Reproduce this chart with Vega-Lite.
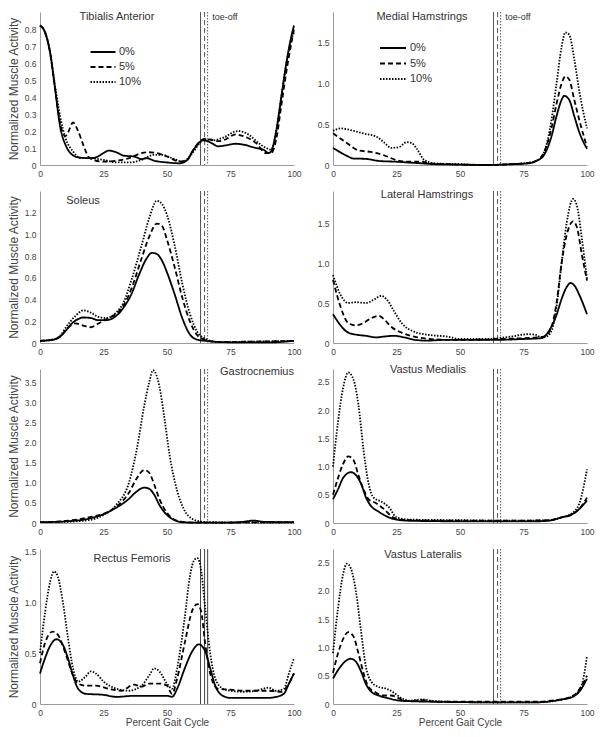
{
"$schema":"https://vega.github.io/schema/vega-lite/v6.json",
"padding":{"left":7,"top":10,"right":5,"bottom":5},
"background":"white",
"datasets":{
"toe":[{"c":"0%","x":63.2},{"c":"5%","x":64.8},{"c":"10%","x":66}],
"emg":[
{"m":"TA","c":"0%","x":0,"y":0.82},{"m":"TA","c":"0%","x":2,"y":0.78},{"m":"TA","c":"0%","x":4,"y":0.66},{"m":"TA","c":"0%","x":6,"y":0.44},{"m":"TA","c":"0%","x":8,"y":0.22},{"m":"TA","c":"0%","x":10,"y":0.12},{"m":"TA","c":"0%","x":12,"y":0.07},{"m":"TA","c":"0%","x":15,"y":0.045},{"m":"TA","c":"0%","x":20,"y":0.04},{"m":"TA","c":"0%","x":22,"y":0.045},{"m":"TA","c":"0%","x":25,"y":0.07},{"m":"TA","c":"0%","x":27,"y":0.085},{"m":"TA","c":"0%","x":30,"y":0.075},{"m":"TA","c":"0%","x":33,"y":0.055},{"m":"TA","c":"0%","x":37,"y":0.05},{"m":"TA","c":"0%","x":40,"y":0.035},{"m":"TA","c":"0%","x":42,"y":0.04},{"m":"TA","c":"0%","x":45,"y":0.025},{"m":"TA","c":"0%","x":50,"y":0.015},{"m":"TA","c":"0%","x":55,"y":0.01},{"m":"TA","c":"0%","x":58,"y":0.03},{"m":"TA","c":"0%","x":60,"y":0.08},{"m":"TA","c":"0%","x":62,"y":0.12},{"m":"TA","c":"0%","x":64,"y":0.145},{"m":"TA","c":"0%","x":66,"y":0.14},{"m":"TA","c":"0%","x":68,"y":0.125},{"m":"TA","c":"0%","x":70,"y":0.11},{"m":"TA","c":"0%","x":73,"y":0.115},{"m":"TA","c":"0%","x":77,"y":0.125},{"m":"TA","c":"0%","x":80,"y":0.12},{"m":"TA","c":"0%","x":85,"y":0.1},{"m":"TA","c":"0%","x":88,"y":0.09},{"m":"TA","c":"0%","x":90,"y":0.07},{"m":"TA","c":"0%","x":91,"y":0.08},{"m":"TA","c":"0%","x":93,"y":0.2},{"m":"TA","c":"0%","x":95,"y":0.4},{"m":"TA","c":"0%","x":97,"y":0.6},{"m":"TA","c":"0%","x":99,"y":0.76},{"m":"TA","c":"0%","x":100,"y":0.82},
{"m":"TA","c":"5%","x":0,"y":0.82},{"m":"TA","c":"5%","x":2,"y":0.78},{"m":"TA","c":"5%","x":4,"y":0.66},{"m":"TA","c":"5%","x":6,"y":0.44},{"m":"TA","c":"5%","x":8,"y":0.24},{"m":"TA","c":"5%","x":10,"y":0.17},{"m":"TA","c":"5%","x":11,"y":0.19},{"m":"TA","c":"5%","x":13,"y":0.25},{"m":"TA","c":"5%","x":15,"y":0.2},{"m":"TA","c":"5%","x":17,"y":0.12},{"m":"TA","c":"5%","x":19,"y":0.05},{"m":"TA","c":"5%","x":21,"y":0.03},{"m":"TA","c":"5%","x":25,"y":0.02},{"m":"TA","c":"5%","x":30,"y":0.025},{"m":"TA","c":"5%","x":35,"y":0.04},{"m":"TA","c":"5%","x":40,"y":0.07},{"m":"TA","c":"5%","x":43,"y":0.075},{"m":"TA","c":"5%","x":46,"y":0.07},{"m":"TA","c":"5%","x":50,"y":0.05},{"m":"TA","c":"5%","x":55,"y":0.02},{"m":"TA","c":"5%","x":58,"y":0.03},{"m":"TA","c":"5%","x":60,"y":0.08},{"m":"TA","c":"5%","x":63,"y":0.14},{"m":"TA","c":"5%","x":65,"y":0.155},{"m":"TA","c":"5%","x":67,"y":0.15},{"m":"TA","c":"5%","x":70,"y":0.14},{"m":"TA","c":"5%","x":73,"y":0.15},{"m":"TA","c":"5%","x":77,"y":0.18},{"m":"TA","c":"5%","x":80,"y":0.17},{"m":"TA","c":"5%","x":85,"y":0.13},{"m":"TA","c":"5%","x":89,"y":0.07},{"m":"TA","c":"5%","x":91,"y":0.07},{"m":"TA","c":"5%","x":93,"y":0.15},{"m":"TA","c":"5%","x":95,"y":0.35},{"m":"TA","c":"5%","x":97,"y":0.55},{"m":"TA","c":"5%","x":99,"y":0.72},{"m":"TA","c":"5%","x":100,"y":0.8},
{"m":"TA","c":"10%","x":0,"y":0.82},{"m":"TA","c":"10%","x":2,"y":0.78},{"m":"TA","c":"10%","x":4,"y":0.66},{"m":"TA","c":"10%","x":6,"y":0.46},{"m":"TA","c":"10%","x":8,"y":0.28},{"m":"TA","c":"10%","x":10,"y":0.16},{"m":"TA","c":"10%","x":13,"y":0.08},{"m":"TA","c":"10%","x":16,"y":0.04},{"m":"TA","c":"10%","x":20,"y":0.04},{"m":"TA","c":"10%","x":25,"y":0.03},{"m":"TA","c":"10%","x":30,"y":0.015},{"m":"TA","c":"10%","x":35,"y":0.015},{"m":"TA","c":"10%","x":40,"y":0.03},{"m":"TA","c":"10%","x":45,"y":0.06},{"m":"TA","c":"10%","x":48,"y":0.06},{"m":"TA","c":"10%","x":52,"y":0.04},{"m":"TA","c":"10%","x":56,"y":0.02},{"m":"TA","c":"10%","x":60,"y":0.07},{"m":"TA","c":"10%","x":63,"y":0.13},{"m":"TA","c":"10%","x":65,"y":0.15},{"m":"TA","c":"10%","x":68,"y":0.145},{"m":"TA","c":"10%","x":72,"y":0.16},{"m":"TA","c":"10%","x":78,"y":0.2},{"m":"TA","c":"10%","x":82,"y":0.18},{"m":"TA","c":"10%","x":86,"y":0.13},{"m":"TA","c":"10%","x":89,"y":0.1},{"m":"TA","c":"10%","x":91,"y":0.09},{"m":"TA","c":"10%","x":93,"y":0.2},{"m":"TA","c":"10%","x":95,"y":0.4},{"m":"TA","c":"10%","x":97,"y":0.6},{"m":"TA","c":"10%","x":99,"y":0.74},{"m":"TA","c":"10%","x":100,"y":0.78},
{"m":"MH","c":"0%","x":0,"y":0.21},{"m":"MH","c":"0%","x":5,"y":0.12},{"m":"MH","c":"0%","x":8,"y":0.08},{"m":"MH","c":"0%","x":13,"y":0.075},{"m":"MH","c":"0%","x":18,"y":0.05},{"m":"MH","c":"0%","x":25,"y":0.04},{"m":"MH","c":"0%","x":30,"y":0.03},{"m":"MH","c":"0%","x":35,"y":0.02},{"m":"MH","c":"0%","x":40,"y":0.01},{"m":"MH","c":"0%","x":50,"y":0.005},{"m":"MH","c":"0%","x":60,"y":0.0},{"m":"MH","c":"0%","x":70,"y":0.01},{"m":"MH","c":"0%","x":77,"y":0.02},{"m":"MH","c":"0%","x":80,"y":0.05},{"m":"MH","c":"0%","x":83,"y":0.12},{"m":"MH","c":"0%","x":86,"y":0.35},{"m":"MH","c":"0%","x":88,"y":0.6},{"m":"MH","c":"0%","x":90,"y":0.8},{"m":"MH","c":"0%","x":91,"y":0.85},{"m":"MH","c":"0%","x":93,"y":0.8},{"m":"MH","c":"0%","x":95,"y":0.6},{"m":"MH","c":"0%","x":97,"y":0.4},{"m":"MH","c":"0%","x":100,"y":0.2},
{"m":"MH","c":"5%","x":0,"y":0.39},{"m":"MH","c":"5%","x":5,"y":0.28},{"m":"MH","c":"5%","x":10,"y":0.18},{"m":"MH","c":"5%","x":15,"y":0.16},{"m":"MH","c":"5%","x":20,"y":0.12},{"m":"MH","c":"5%","x":25,"y":0.06},{"m":"MH","c":"5%","x":30,"y":0.04},{"m":"MH","c":"5%","x":35,"y":0.04},{"m":"MH","c":"5%","x":38,"y":0.02},{"m":"MH","c":"5%","x":45,"y":0.01},{"m":"MH","c":"5%","x":60,"y":0.0},{"m":"MH","c":"5%","x":75,"y":0.02},{"m":"MH","c":"5%","x":80,"y":0.05},{"m":"MH","c":"5%","x":83,"y":0.15},{"m":"MH","c":"5%","x":86,"y":0.45},{"m":"MH","c":"5%","x":88,"y":0.75},{"m":"MH","c":"5%","x":90,"y":1.0},{"m":"MH","c":"5%","x":91.5,"y":1.09},{"m":"MH","c":"5%","x":93,"y":1.05},{"m":"MH","c":"5%","x":95,"y":0.8},{"m":"MH","c":"5%","x":97,"y":0.55},{"m":"MH","c":"5%","x":100,"y":0.22},
{"m":"MH","c":"10%","x":0,"y":0.42},{"m":"MH","c":"10%","x":3,"y":0.45},{"m":"MH","c":"10%","x":8,"y":0.42},{"m":"MH","c":"10%","x":13,"y":0.38},{"m":"MH","c":"10%","x":17,"y":0.35},{"m":"MH","c":"10%","x":20,"y":0.28},{"m":"MH","c":"10%","x":23,"y":0.21},{"m":"MH","c":"10%","x":26,"y":0.22},{"m":"MH","c":"10%","x":29,"y":0.28},{"m":"MH","c":"10%","x":31,"y":0.27},{"m":"MH","c":"10%","x":33,"y":0.2},{"m":"MH","c":"10%","x":36,"y":0.06},{"m":"MH","c":"10%","x":40,"y":0.02},{"m":"MH","c":"10%","x":50,"y":0.01},{"m":"MH","c":"10%","x":60,"y":0.0},{"m":"MH","c":"10%","x":75,"y":0.02},{"m":"MH","c":"10%","x":80,"y":0.05},{"m":"MH","c":"10%","x":83,"y":0.15},{"m":"MH","c":"10%","x":86,"y":0.55},{"m":"MH","c":"10%","x":88,"y":1.0},{"m":"MH","c":"10%","x":90,"y":1.45},{"m":"MH","c":"10%","x":91.5,"y":1.63},{"m":"MH","c":"10%","x":93,"y":1.6},{"m":"MH","c":"10%","x":95,"y":1.3},{"m":"MH","c":"10%","x":97,"y":0.9},{"m":"MH","c":"10%","x":100,"y":0.45},
{"m":"SOL","c":"0%","x":0,"y":0.02},{"m":"SOL","c":"0%","x":5,"y":0.03},{"m":"SOL","c":"0%","x":8,"y":0.06},{"m":"SOL","c":"0%","x":10,"y":0.11},{"m":"SOL","c":"0%","x":13,"y":0.19},{"m":"SOL","c":"0%","x":15,"y":0.22},{"m":"SOL","c":"0%","x":17,"y":0.235},{"m":"SOL","c":"0%","x":20,"y":0.23},{"m":"SOL","c":"0%","x":23,"y":0.21},{"m":"SOL","c":"0%","x":26,"y":0.21},{"m":"SOL","c":"0%","x":30,"y":0.25},{"m":"SOL","c":"0%","x":33,"y":0.33},{"m":"SOL","c":"0%","x":36,"y":0.45},{"m":"SOL","c":"0%","x":39,"y":0.63},{"m":"SOL","c":"0%","x":42,"y":0.78},{"m":"SOL","c":"0%","x":44,"y":0.83},{"m":"SOL","c":"0%","x":46,"y":0.82},{"m":"SOL","c":"0%","x":48,"y":0.76},{"m":"SOL","c":"0%","x":50,"y":0.65},{"m":"SOL","c":"0%","x":53,"y":0.45},{"m":"SOL","c":"0%","x":56,"y":0.23},{"m":"SOL","c":"0%","x":59,"y":0.08},{"m":"SOL","c":"0%","x":62,"y":0.03},{"m":"SOL","c":"0%","x":65,"y":0.02},{"m":"SOL","c":"0%","x":70,"y":0.01},{"m":"SOL","c":"0%","x":80,"y":0.005},{"m":"SOL","c":"0%","x":90,"y":0.005},{"m":"SOL","c":"0%","x":100,"y":0.02},
{"m":"SOL","c":"5%","x":0,"y":0.02},{"m":"SOL","c":"5%","x":5,"y":0.03},{"m":"SOL","c":"5%","x":8,"y":0.06},{"m":"SOL","c":"5%","x":11,"y":0.14},{"m":"SOL","c":"5%","x":14,"y":0.18},{"m":"SOL","c":"5%","x":17,"y":0.16},{"m":"SOL","c":"5%","x":20,"y":0.145},{"m":"SOL","c":"5%","x":23,"y":0.18},{"m":"SOL","c":"5%","x":27,"y":0.23},{"m":"SOL","c":"5%","x":30,"y":0.27},{"m":"SOL","c":"5%","x":33,"y":0.35},{"m":"SOL","c":"5%","x":36,"y":0.5},{"m":"SOL","c":"5%","x":40,"y":0.78},{"m":"SOL","c":"5%","x":43,"y":0.98},{"m":"SOL","c":"5%","x":46,"y":1.1},{"m":"SOL","c":"5%","x":48,"y":1.08},{"m":"SOL","c":"5%","x":50,"y":0.95},{"m":"SOL","c":"5%","x":53,"y":0.7},{"m":"SOL","c":"5%","x":56,"y":0.42},{"m":"SOL","c":"5%","x":59,"y":0.2},{"m":"SOL","c":"5%","x":62,"y":0.07},{"m":"SOL","c":"5%","x":65,"y":0.03},{"m":"SOL","c":"5%","x":70,"y":0.01},{"m":"SOL","c":"5%","x":100,"y":0.02},
{"m":"SOL","c":"10%","x":0,"y":0.02},{"m":"SOL","c":"10%","x":5,"y":0.03},{"m":"SOL","c":"10%","x":8,"y":0.07},{"m":"SOL","c":"10%","x":11,"y":0.17},{"m":"SOL","c":"10%","x":14,"y":0.25},{"m":"SOL","c":"10%","x":17,"y":0.3},{"m":"SOL","c":"10%","x":20,"y":0.28},{"m":"SOL","c":"10%","x":23,"y":0.24},{"m":"SOL","c":"10%","x":26,"y":0.23},{"m":"SOL","c":"10%","x":30,"y":0.28},{"m":"SOL","c":"10%","x":33,"y":0.38},{"m":"SOL","c":"10%","x":36,"y":0.58},{"m":"SOL","c":"10%","x":40,"y":0.9},{"m":"SOL","c":"10%","x":43,"y":1.15},{"m":"SOL","c":"10%","x":46,"y":1.31},{"m":"SOL","c":"10%","x":48,"y":1.28},{"m":"SOL","c":"10%","x":50,"y":1.18},{"m":"SOL","c":"10%","x":53,"y":0.9},{"m":"SOL","c":"10%","x":56,"y":0.55},{"m":"SOL","c":"10%","x":59,"y":0.27},{"m":"SOL","c":"10%","x":62,"y":0.1},{"m":"SOL","c":"10%","x":65,"y":0.04},{"m":"SOL","c":"10%","x":70,"y":0.01},{"m":"SOL","c":"10%","x":100,"y":0.02},
{"m":"LH","c":"0%","x":0,"y":0.36},{"m":"LH","c":"0%","x":3,"y":0.22},{"m":"LH","c":"0%","x":6,"y":0.13},{"m":"LH","c":"0%","x":10,"y":0.1},{"m":"LH","c":"0%","x":13,"y":0.09},{"m":"LH","c":"0%","x":17,"y":0.07},{"m":"LH","c":"0%","x":20,"y":0.08},{"m":"LH","c":"0%","x":24,"y":0.09},{"m":"LH","c":"0%","x":28,"y":0.07},{"m":"LH","c":"0%","x":32,"y":0.04},{"m":"LH","c":"0%","x":37,"y":0.03},{"m":"LH","c":"0%","x":45,"y":0.04},{"m":"LH","c":"0%","x":55,"y":0.04},{"m":"LH","c":"0%","x":65,"y":0.04},{"m":"LH","c":"0%","x":75,"y":0.05},{"m":"LH","c":"0%","x":82,"y":0.06},{"m":"LH","c":"0%","x":85,"y":0.15},{"m":"LH","c":"0%","x":88,"y":0.35},{"m":"LH","c":"0%","x":90,"y":0.55},{"m":"LH","c":"0%","x":92,"y":0.7},{"m":"LH","c":"0%","x":93.5,"y":0.75},{"m":"LH","c":"0%","x":95,"y":0.72},{"m":"LH","c":"0%","x":97,"y":0.6},{"m":"LH","c":"0%","x":100,"y":0.36},
{"m":"LH","c":"5%","x":0,"y":0.79},{"m":"LH","c":"5%","x":3,"y":0.45},{"m":"LH","c":"5%","x":6,"y":0.25},{"m":"LH","c":"5%","x":9,"y":0.22},{"m":"LH","c":"5%","x":12,"y":0.25},{"m":"LH","c":"5%","x":15,"y":0.31},{"m":"LH","c":"5%","x":18,"y":0.34},{"m":"LH","c":"5%","x":20,"y":0.3},{"m":"LH","c":"5%","x":23,"y":0.2},{"m":"LH","c":"5%","x":27,"y":0.13},{"m":"LH","c":"5%","x":32,"y":0.08},{"m":"LH","c":"5%","x":38,"y":0.05},{"m":"LH","c":"5%","x":45,"y":0.04},{"m":"LH","c":"5%","x":55,"y":0.04},{"m":"LH","c":"5%","x":65,"y":0.05},{"m":"LH","c":"5%","x":75,"y":0.06},{"m":"LH","c":"5%","x":80,"y":0.07},{"m":"LH","c":"5%","x":83,"y":0.08},{"m":"LH","c":"5%","x":86,"y":0.2},{"m":"LH","c":"5%","x":88,"y":0.5},{"m":"LH","c":"5%","x":90,"y":1.0},{"m":"LH","c":"5%","x":92,"y":1.35},{"m":"LH","c":"5%","x":94.5,"y":1.52},{"m":"LH","c":"5%","x":96,"y":1.45},{"m":"LH","c":"5%","x":98,"y":1.1},{"m":"LH","c":"5%","x":100,"y":0.78},
{"m":"LH","c":"10%","x":0,"y":0.85},{"m":"LH","c":"10%","x":3,"y":0.6},{"m":"LH","c":"10%","x":6,"y":0.5},{"m":"LH","c":"10%","x":9,"y":0.51},{"m":"LH","c":"10%","x":13,"y":0.5},{"m":"LH","c":"10%","x":16,"y":0.54},{"m":"LH","c":"10%","x":19,"y":0.59},{"m":"LH","c":"10%","x":21,"y":0.55},{"m":"LH","c":"10%","x":24,"y":0.4},{"m":"LH","c":"10%","x":27,"y":0.25},{"m":"LH","c":"10%","x":32,"y":0.14},{"m":"LH","c":"10%","x":38,"y":0.1},{"m":"LH","c":"10%","x":45,"y":0.08},{"m":"LH","c":"10%","x":50,"y":0.05},{"m":"LH","c":"10%","x":60,"y":0.05},{"m":"LH","c":"10%","x":65,"y":0.06},{"m":"LH","c":"10%","x":70,"y":0.08},{"m":"LH","c":"10%","x":77,"y":0.11},{"m":"LH","c":"10%","x":80,"y":0.1},{"m":"LH","c":"10%","x":82,"y":0.07},{"m":"LH","c":"10%","x":84,"y":0.08},{"m":"LH","c":"10%","x":86,"y":0.15},{"m":"LH","c":"10%","x":88,"y":0.45},{"m":"LH","c":"10%","x":90,"y":1.0},{"m":"LH","c":"10%","x":92,"y":1.5},{"m":"LH","c":"10%","x":94.5,"y":1.8},{"m":"LH","c":"10%","x":96,"y":1.72},{"m":"LH","c":"10%","x":98,"y":1.3},{"m":"LH","c":"10%","x":100,"y":0.8},
{"m":"GAS","c":"0%","x":0,"y":0.02},{"m":"GAS","c":"0%","x":10,"y":0.04},{"m":"GAS","c":"0%","x":20,"y":0.12},{"m":"GAS","c":"0%","x":25,"y":0.22},{"m":"GAS","c":"0%","x":30,"y":0.38},{"m":"GAS","c":"0%","x":35,"y":0.6},{"m":"GAS","c":"0%","x":38,"y":0.78},{"m":"GAS","c":"0%","x":41,"y":0.88},{"m":"GAS","c":"0%","x":43,"y":0.85},{"m":"GAS","c":"0%","x":45,"y":0.7},{"m":"GAS","c":"0%","x":47,"y":0.45},{"m":"GAS","c":"0%","x":50,"y":0.2},{"m":"GAS","c":"0%","x":53,"y":0.07},{"m":"GAS","c":"0%","x":56,"y":0.02},{"m":"GAS","c":"0%","x":60,"y":0.01},{"m":"GAS","c":"0%","x":75,"y":0.01},{"m":"GAS","c":"0%","x":80,"y":0.03},{"m":"GAS","c":"0%","x":84,"y":0.06},{"m":"GAS","c":"0%","x":88,"y":0.03},{"m":"GAS","c":"0%","x":100,"y":0.02},
{"m":"GAS","c":"5%","x":0,"y":0.02},{"m":"GAS","c":"5%","x":10,"y":0.05},{"m":"GAS","c":"5%","x":20,"y":0.15},{"m":"GAS","c":"5%","x":25,"y":0.23},{"m":"GAS","c":"5%","x":30,"y":0.4},{"m":"GAS","c":"5%","x":35,"y":0.75},{"m":"GAS","c":"5%","x":38,"y":1.1},{"m":"GAS","c":"5%","x":41,"y":1.32},{"m":"GAS","c":"5%","x":43,"y":1.25},{"m":"GAS","c":"5%","x":45,"y":0.95},{"m":"GAS","c":"5%","x":47,"y":0.6},{"m":"GAS","c":"5%","x":50,"y":0.25},{"m":"GAS","c":"5%","x":53,"y":0.08},{"m":"GAS","c":"5%","x":56,"y":0.03},{"m":"GAS","c":"5%","x":60,"y":0.01},{"m":"GAS","c":"5%","x":100,"y":0.02},
{"m":"GAS","c":"10%","x":0,"y":0.02},{"m":"GAS","c":"10%","x":10,"y":0.03},{"m":"GAS","c":"10%","x":20,"y":0.08},{"m":"GAS","c":"10%","x":25,"y":0.2},{"m":"GAS","c":"10%","x":30,"y":0.45},{"m":"GAS","c":"10%","x":35,"y":1.0},{"m":"GAS","c":"10%","x":38,"y":1.8},{"m":"GAS","c":"10%","x":41,"y":2.9},{"m":"GAS","c":"10%","x":43,"y":3.5},{"m":"GAS","c":"10%","x":44.5,"y":3.8},{"m":"GAS","c":"10%","x":47,"y":3.4},{"m":"GAS","c":"10%","x":49,"y":2.6},{"m":"GAS","c":"10%","x":51,"y":1.7},{"m":"GAS","c":"10%","x":54,"y":0.8},{"m":"GAS","c":"10%","x":57,"y":0.3},{"m":"GAS","c":"10%","x":60,"y":0.1},{"m":"GAS","c":"10%","x":63,"y":0.04},{"m":"GAS","c":"10%","x":66,"y":0.02},{"m":"GAS","c":"10%","x":100,"y":0.01},
{"m":"VM","c":"0%","x":0,"y":0.42},{"m":"VM","c":"0%","x":2,"y":0.6},{"m":"VM","c":"0%","x":4,"y":0.8},{"m":"VM","c":"0%","x":7,"y":0.9},{"m":"VM","c":"0%","x":9,"y":0.85},{"m":"VM","c":"0%","x":11,"y":0.7},{"m":"VM","c":"0%","x":13,"y":0.45},{"m":"VM","c":"0%","x":15,"y":0.3},{"m":"VM","c":"0%","x":18,"y":0.2},{"m":"VM","c":"0%","x":22,"y":0.1},{"m":"VM","c":"0%","x":25,"y":0.06},{"m":"VM","c":"0%","x":30,"y":0.04},{"m":"VM","c":"0%","x":50,"y":0.03},{"m":"VM","c":"0%","x":65,"y":0.03},{"m":"VM","c":"0%","x":80,"y":0.03},{"m":"VM","c":"0%","x":85,"y":0.04},{"m":"VM","c":"0%","x":90,"y":0.1},{"m":"VM","c":"0%","x":94,"y":0.15},{"m":"VM","c":"0%","x":97,"y":0.25},{"m":"VM","c":"0%","x":100,"y":0.4},
{"m":"VM","c":"5%","x":0,"y":0.5},{"m":"VM","c":"5%","x":2,"y":0.8},{"m":"VM","c":"5%","x":4,"y":1.05},{"m":"VM","c":"5%","x":6,"y":1.18},{"m":"VM","c":"5%","x":8,"y":1.12},{"m":"VM","c":"5%","x":10,"y":0.85},{"m":"VM","c":"5%","x":12,"y":0.6},{"m":"VM","c":"5%","x":14,"y":0.42},{"m":"VM","c":"5%","x":17,"y":0.35},{"m":"VM","c":"5%","x":20,"y":0.25},{"m":"VM","c":"5%","x":23,"y":0.12},{"m":"VM","c":"5%","x":26,"y":0.06},{"m":"VM","c":"5%","x":30,"y":0.05},{"m":"VM","c":"5%","x":50,"y":0.04},{"m":"VM","c":"5%","x":70,"y":0.04},{"m":"VM","c":"5%","x":85,"y":0.05},{"m":"VM","c":"5%","x":90,"y":0.1},{"m":"VM","c":"5%","x":94,"y":0.15},{"m":"VM","c":"5%","x":97,"y":0.25},{"m":"VM","c":"5%","x":100,"y":0.45},
{"m":"VM","c":"10%","x":0,"y":1.0},{"m":"VM","c":"10%","x":2,"y":1.8},{"m":"VM","c":"10%","x":4,"y":2.4},{"m":"VM","c":"10%","x":6,"y":2.67},{"m":"VM","c":"10%","x":8,"y":2.55},{"m":"VM","c":"10%","x":10,"y":2.1},{"m":"VM","c":"10%","x":12,"y":1.3},{"m":"VM","c":"10%","x":14,"y":0.7},{"m":"VM","c":"10%","x":16,"y":0.45},{"m":"VM","c":"10%","x":19,"y":0.38},{"m":"VM","c":"10%","x":22,"y":0.28},{"m":"VM","c":"10%","x":25,"y":0.1},{"m":"VM","c":"10%","x":30,"y":0.06},{"m":"VM","c":"10%","x":50,"y":0.05},{"m":"VM","c":"10%","x":70,"y":0.04},{"m":"VM","c":"10%","x":85,"y":0.05},{"m":"VM","c":"10%","x":90,"y":0.1},{"m":"VM","c":"10%","x":94,"y":0.17},{"m":"VM","c":"10%","x":97,"y":0.35},{"m":"VM","c":"10%","x":100,"y":0.95},
{"m":"RF","c":"0%","x":0,"y":0.3},{"m":"RF","c":"0%","x":2,"y":0.45},{"m":"RF","c":"0%","x":4,"y":0.57},{"m":"RF","c":"0%","x":6.5,"y":0.635},{"m":"RF","c":"0%","x":9,"y":0.58},{"m":"RF","c":"0%","x":11,"y":0.45},{"m":"RF","c":"0%","x":13,"y":0.28},{"m":"RF","c":"0%","x":15,"y":0.15},{"m":"RF","c":"0%","x":18,"y":0.1},{"m":"RF","c":"0%","x":25,"y":0.09},{"m":"RF","c":"0%","x":30,"y":0.07},{"m":"RF","c":"0%","x":37,"y":0.08},{"m":"RF","c":"0%","x":45,"y":0.08},{"m":"RF","c":"0%","x":50,"y":0.08},{"m":"RF","c":"0%","x":52,"y":0.07},{"m":"RF","c":"0%","x":54,"y":0.15},{"m":"RF","c":"0%","x":57,"y":0.35},{"m":"RF","c":"0%","x":60,"y":0.52},{"m":"RF","c":"0%","x":62.5,"y":0.585},{"m":"RF","c":"0%","x":65,"y":0.52},{"m":"RF","c":"0%","x":67,"y":0.35},{"m":"RF","c":"0%","x":69,"y":0.18},{"m":"RF","c":"0%","x":72,"y":0.08},{"m":"RF","c":"0%","x":75,"y":0.06},{"m":"RF","c":"0%","x":85,"y":0.06},{"m":"RF","c":"0%","x":90,"y":0.06},{"m":"RF","c":"0%","x":93,"y":0.07},{"m":"RF","c":"0%","x":96,"y":0.1},{"m":"RF","c":"0%","x":98,"y":0.2},{"m":"RF","c":"0%","x":100,"y":0.3},
{"m":"RF","c":"5%","x":0,"y":0.4},{"m":"RF","c":"5%","x":2,"y":0.6},{"m":"RF","c":"5%","x":5,"y":0.71},{"m":"RF","c":"5%","x":7,"y":0.68},{"m":"RF","c":"5%","x":10,"y":0.5},{"m":"RF","c":"5%","x":13,"y":0.28},{"m":"RF","c":"5%","x":15,"y":0.2},{"m":"RF","c":"5%","x":18,"y":0.18},{"m":"RF","c":"5%","x":22,"y":0.18},{"m":"RF","c":"5%","x":27,"y":0.15},{"m":"RF","c":"5%","x":32,"y":0.13},{"m":"RF","c":"5%","x":37,"y":0.19},{"m":"RF","c":"5%","x":40,"y":0.17},{"m":"RF","c":"5%","x":43,"y":0.2},{"m":"RF","c":"5%","x":47,"y":0.2},{"m":"RF","c":"5%","x":50,"y":0.18},{"m":"RF","c":"5%","x":52,"y":0.1},{"m":"RF","c":"5%","x":54,"y":0.25},{"m":"RF","c":"5%","x":57,"y":0.6},{"m":"RF","c":"5%","x":60,"y":0.92},{"m":"RF","c":"5%","x":62,"y":0.98},{"m":"RF","c":"5%","x":63.5,"y":0.9},{"m":"RF","c":"5%","x":65,"y":0.6},{"m":"RF","c":"5%","x":67,"y":0.3},{"m":"RF","c":"5%","x":70,"y":0.15},{"m":"RF","c":"5%","x":75,"y":0.14},{"m":"RF","c":"5%","x":80,"y":0.13},{"m":"RF","c":"5%","x":90,"y":0.13},{"m":"RF","c":"5%","x":95,"y":0.12},{"m":"RF","c":"5%","x":98,"y":0.2},{"m":"RF","c":"5%","x":100,"y":0.3},
{"m":"RF","c":"10%","x":0,"y":0.5},{"m":"RF","c":"10%","x":2,"y":0.9},{"m":"RF","c":"10%","x":4,"y":1.2},{"m":"RF","c":"10%","x":5.5,"y":1.3},{"m":"RF","c":"10%","x":7,"y":1.25},{"m":"RF","c":"10%","x":9,"y":1.0},{"m":"RF","c":"10%","x":11,"y":0.65},{"m":"RF","c":"10%","x":13,"y":0.35},{"m":"RF","c":"10%","x":15,"y":0.22},{"m":"RF","c":"10%","x":18,"y":0.27},{"m":"RF","c":"10%","x":20,"y":0.32},{"m":"RF","c":"10%","x":22,"y":0.3},{"m":"RF","c":"10%","x":25,"y":0.22},{"m":"RF","c":"10%","x":30,"y":0.15},{"m":"RF","c":"10%","x":35,"y":0.13},{"m":"RF","c":"10%","x":40,"y":0.18},{"m":"RF","c":"10%","x":43,"y":0.28},{"m":"RF","c":"10%","x":45,"y":0.35},{"m":"RF","c":"10%","x":47,"y":0.32},{"m":"RF","c":"10%","x":50,"y":0.2},{"m":"RF","c":"10%","x":52,"y":0.15},{"m":"RF","c":"10%","x":54,"y":0.35},{"m":"RF","c":"10%","x":57,"y":0.85},{"m":"RF","c":"10%","x":59,"y":1.25},{"m":"RF","c":"10%","x":61,"y":1.42},{"m":"RF","c":"10%","x":62,"y":1.43},{"m":"RF","c":"10%","x":63.5,"y":1.3},{"m":"RF","c":"10%","x":65,"y":0.95},{"m":"RF","c":"10%","x":67,"y":0.5},{"m":"RF","c":"10%","x":69,"y":0.25},{"m":"RF","c":"10%","x":72,"y":0.15},{"m":"RF","c":"10%","x":75,"y":0.13},{"m":"RF","c":"10%","x":80,"y":0.12},{"m":"RF","c":"10%","x":85,"y":0.13},{"m":"RF","c":"10%","x":90,"y":0.16},{"m":"RF","c":"10%","x":93,"y":0.13},{"m":"RF","c":"10%","x":96,"y":0.15},{"m":"RF","c":"10%","x":98,"y":0.3},{"m":"RF","c":"10%","x":100,"y":0.45},
{"m":"VL","c":"0%","x":0,"y":0.45},{"m":"VL","c":"0%","x":2,"y":0.6},{"m":"VL","c":"0%","x":5,"y":0.76},{"m":"VL","c":"0%","x":7,"y":0.8},{"m":"VL","c":"0%","x":9,"y":0.75},{"m":"VL","c":"0%","x":11,"y":0.58},{"m":"VL","c":"0%","x":13,"y":0.35},{"m":"VL","c":"0%","x":15,"y":0.22},{"m":"VL","c":"0%","x":18,"y":0.15},{"m":"VL","c":"0%","x":22,"y":0.1},{"m":"VL","c":"0%","x":26,"y":0.06},{"m":"VL","c":"0%","x":30,"y":0.05},{"m":"VL","c":"0%","x":40,"y":0.04},{"m":"VL","c":"0%","x":60,"y":0.03},{"m":"VL","c":"0%","x":80,"y":0.03},{"m":"VL","c":"0%","x":86,"y":0.05},{"m":"VL","c":"0%","x":90,"y":0.08},{"m":"VL","c":"0%","x":94,"y":0.12},{"m":"VL","c":"0%","x":97,"y":0.22},{"m":"VL","c":"0%","x":100,"y":0.45},
{"m":"VL","c":"5%","x":0,"y":0.55},{"m":"VL","c":"5%","x":2,"y":0.9},{"m":"VL","c":"5%","x":4,"y":1.15},{"m":"VL","c":"5%","x":6,"y":1.27},{"m":"VL","c":"5%","x":8,"y":1.2},{"m":"VL","c":"5%","x":10,"y":0.9},{"m":"VL","c":"5%","x":12,"y":0.55},{"m":"VL","c":"5%","x":14,"y":0.3},{"m":"VL","c":"5%","x":17,"y":0.2},{"m":"VL","c":"5%","x":20,"y":0.15},{"m":"VL","c":"5%","x":23,"y":0.15},{"m":"VL","c":"5%","x":27,"y":0.08},{"m":"VL","c":"5%","x":30,"y":0.05},{"m":"VL","c":"5%","x":35,"y":0.07},{"m":"VL","c":"5%","x":40,"y":0.04},{"m":"VL","c":"5%","x":60,"y":0.04},{"m":"VL","c":"5%","x":80,"y":0.04},{"m":"VL","c":"5%","x":88,"y":0.07},{"m":"VL","c":"5%","x":92,"y":0.1},{"m":"VL","c":"5%","x":96,"y":0.2},{"m":"VL","c":"5%","x":100,"y":0.5},
{"m":"VL","c":"10%","x":0,"y":0.9},{"m":"VL","c":"10%","x":2,"y":1.7},{"m":"VL","c":"10%","x":4,"y":2.3},{"m":"VL","c":"10%","x":5.5,"y":2.48},{"m":"VL","c":"10%","x":7,"y":2.4},{"m":"VL","c":"10%","x":9,"y":2.0},{"m":"VL","c":"10%","x":11,"y":1.3},{"m":"VL","c":"10%","x":13,"y":0.65},{"m":"VL","c":"10%","x":15,"y":0.4},{"m":"VL","c":"10%","x":18,"y":0.3},{"m":"VL","c":"10%","x":21,"y":0.27},{"m":"VL","c":"10%","x":24,"y":0.2},{"m":"VL","c":"10%","x":27,"y":0.1},{"m":"VL","c":"10%","x":30,"y":0.06},{"m":"VL","c":"10%","x":35,"y":0.08},{"m":"VL","c":"10%","x":40,"y":0.05},{"m":"VL","c":"10%","x":60,"y":0.03},{"m":"VL","c":"10%","x":80,"y":0.03},{"m":"VL","c":"10%","x":88,"y":0.06},{"m":"VL","c":"10%","x":92,"y":0.1},{"m":"VL","c":"10%","x":95,"y":0.15},{"m":"VL","c":"10%","x":98,"y":0.35},{"m":"VL","c":"10%","x":100,"y":0.85}
]},
"columns":2,
"bounds":"flush",
"spacing":{"row":26,"column":39},
"resolve":{"scale":{"strokeDash":"independent"},"legend":{"strokeDash":"independent"}},
"concat":[
  {"width":254,"height":153,
   "title":{"text":"Tibialis Anterior","dx":-50,"offset":-10.5},
   "encoding":{"x":{"field":"x","type":"quantitative","scale":{"domain":[0,100],"nice":false},"axis":{"values":[0,25,50,75,100],"title":null}}},
   "layer":[
    {"data":{"name":"toe"},"mark":{"type":"rule","color":"#555","strokeWidth":1},
     "encoding":{"strokeDash":{"field":"c","type":"nominal","scale":{"domain":["0%","5%","10%"],"range":[[1,0],[5,3],[1.5,1.5]]},
      "legend":{"orient":"none","legendX":54,"legendY":31,"title":null,"symbolType":"M-1.5625,0H1.5625","symbolSize":256,"symbolStrokeWidth":1.8,"symbolStrokeColor":"black","labelFontSize":11,"labelColor":"#333","labelOffset":7,"rowPadding":1,"padding":0}}}},
    {"data":{"name":"emg"},"transform":[{"filter":"datum.m == 'TA'"}],
     "mark":{"type":"line","color":"black","strokeWidth":1.8,"interpolate":"monotone"},
     "encoding":{
      "y":{"field":"y","type":"quantitative","scale":{"domain":[0,0.9],"nice":false},"axis":{"values":[0,0.1,0.2,0.3,0.4,0.5,0.6,0.7,0.8],"title":"Normalized Muscle Activity"}},
      "strokeDash":{"field":"c","type":"nominal","scale":{"domain":["0%","5%","10%"],"range":[[1,0],[5,3],[1.5,1.5]]},
      "legend":{"orient":"none","legendX":54,"legendY":31,"title":null,"symbolType":"M-1.5625,0H1.5625","symbolSize":256,"symbolStrokeWidth":1.8,"symbolStrokeColor":"black","labelFontSize":11,"labelColor":"#333","labelOffset":7,"rowPadding":1,"padding":0}}}},
    {"data":{"values":[{"x":67.8,"y":0.87,"t":"toe-off"}]},
     "mark":{"type":"text","align":"left","baseline":"middle","fontSize":9,"color":"#333"},
     "encoding":{"y":{"field":"y","type":"quantitative","scale":{"domain":[0,0.9],"nice":false},"axis":{"values":[0,0.1,0.2,0.3,0.4,0.5,0.6,0.7,0.8],"title":"Normalized Muscle Activity"}},"text":{"field":"t"}}}
   ]},
  {"width":254,"height":153,
   "title":{"text":"Medial Hamstrings","dx":-38,"offset":-10},
   "encoding":{"x":{"field":"x","type":"quantitative","scale":{"domain":[0,100],"nice":false},"axis":{"values":[0,25,50,75,100],"title":null}}},
   "layer":[
    {"data":{"name":"toe"},"mark":{"type":"rule","color":"#555","strokeWidth":1},
     "encoding":{"strokeDash":{"field":"c","type":"nominal","scale":{"domain":["0%","5%","10%"],"range":[[1,0],[5,3],[1.5,1.5]]},
      "legend":{"orient":"none","legendX":51,"legendY":27,"title":null,"symbolType":"M-1.625,0H1.625","symbolSize":256,"symbolStrokeWidth":1.8,"symbolStrokeColor":"black","labelFontSize":11,"labelColor":"#333","labelOffset":8,"rowPadding":1.5,"padding":0}}}},
    {"data":{"name":"emg"},"transform":[{"filter":"datum.m == 'MH'"}],
     "mark":{"type":"line","color":"black","strokeWidth":1.8,"interpolate":"monotone"},
     "encoding":{
      "y":{"field":"y","type":"quantitative","scale":{"domain":[0,1.88],"nice":false},"axis":{"values":[0,0.5,1,1.5],"title":null}},
      "strokeDash":{"field":"c","type":"nominal","scale":{"domain":["0%","5%","10%"],"range":[[1,0],[5,3],[1.5,1.5]]},
      "legend":{"orient":"none","legendX":51,"legendY":27,"title":null,"symbolType":"M-1.625,0H1.625","symbolSize":256,"symbolStrokeWidth":1.8,"symbolStrokeColor":"black","labelFontSize":11,"labelColor":"#333","labelOffset":8,"rowPadding":1.5,"padding":0}}}},
    {"data":{"values":[{"x":67.8,"y":1.82,"t":"toe-off"}]},
     "mark":{"type":"text","align":"left","baseline":"middle","fontSize":9,"color":"#333"},
     "encoding":{"y":{"field":"y","type":"quantitative","scale":{"domain":[0,1.88],"nice":false},"axis":{"values":[0,0.5,1,1.5],"title":null}},"text":{"field":"t"}}}
   ]},
  {"width":254,"height":152,
   "title":{"text":"Soleus","dx":-84,"offset":-15},
   "encoding":{"x":{"field":"x","type":"quantitative","scale":{"domain":[0,100],"nice":false},"axis":{"values":[0,25,50,75,100],"title":null}}},
   "layer":[
    {"data":{"name":"toe"},"mark":{"type":"rule","color":"#555","strokeWidth":1},
     "encoding":{"strokeDash":{"field":"c","type":"nominal","scale":{"domain":["0%","5%","10%"],"range":[[1,0],[5,3],[1.5,1.5]]},"legend":null}}},
    {"data":{"name":"emg"},"transform":[{"filter":"datum.m == 'SOL'"}],
     "mark":{"type":"line","color":"black","strokeWidth":1.8,"interpolate":"monotone"},
     "encoding":{
      "y":{"field":"y","type":"quantitative","scale":{"domain":[0,1.4],"nice":false},"axis":{"values":[0,0.2,0.4,0.6,0.8,1,1.2],"title":"Normalized Muscle Activity"}},
      "strokeDash":{"field":"c","type":"nominal","scale":{"domain":["0%","5%","10%"],"range":[[1,0],[5,3],[1.5,1.5]]},"legend":null}}}
   ]},
  {"width":254,"height":152,
   "title":{"text":"Lateral Hamstrings","dx":-33,"offset":-9},
   "encoding":{"x":{"field":"x","type":"quantitative","scale":{"domain":[0,100],"nice":false},"axis":{"values":[0,25,50,75,100],"title":null}}},
   "layer":[
    {"data":{"name":"toe"},"mark":{"type":"rule","color":"#555","strokeWidth":1},
     "encoding":{"strokeDash":{"field":"c","type":"nominal","scale":{"domain":["0%","5%","10%"],"range":[[1,0],[5,3],[1.5,1.5]]},"legend":null}}},
    {"data":{"name":"emg"},"transform":[{"filter":"datum.m == 'LH'"}],
     "mark":{"type":"line","color":"black","strokeWidth":1.8,"interpolate":"monotone"},
     "encoding":{
      "y":{"field":"y","type":"quantitative","scale":{"domain":[0,1.9],"nice":false},"axis":{"values":[0,0.5,1,1.5],"title":null}},
      "strokeDash":{"field":"c","type":"nominal","scale":{"domain":["0%","5%","10%"],"range":[[1,0],[5,3],[1.5,1.5]]},"legend":null}}}
   ]},
  {"width":254,"height":154,
   "title":{"text":"Gastrocnemius","dx":90,"offset":-10},
   "encoding":{"x":{"field":"x","type":"quantitative","scale":{"domain":[0,100],"nice":false},"axis":{"values":[0,25,50,75,100],"title":null}}},
   "layer":[
    {"data":{"name":"toe"},"mark":{"type":"rule","color":"#555","strokeWidth":1},
     "encoding":{"strokeDash":{"field":"c","type":"nominal","scale":{"domain":["0%","5%","10%"],"range":[[1,0],[5,3],[1.5,1.5]]},"legend":null}}},
    {"data":{"name":"emg"},"transform":[{"filter":"datum.m == 'GAS'"}],
     "mark":{"type":"line","color":"black","strokeWidth":1.8,"interpolate":"monotone"},
     "encoding":{
      "y":{"field":"y","type":"quantitative","scale":{"domain":[0,3.83],"nice":false},"axis":{"values":[0,0.5,1,1.5,2,2.5,3,3.5],"title":"Normalized Muscle Activity"}},
      "strokeDash":{"field":"c","type":"nominal","scale":{"domain":["0%","5%","10%"],"range":[[1,0],[5,3],[1.5,1.5]]},"legend":null}}}
   ]},
  {"width":254,"height":154,
   "title":{"text":"Vastus Medialis","dx":-32,"offset":-6},
   "encoding":{"x":{"field":"x","type":"quantitative","scale":{"domain":[0,100],"nice":false},"axis":{"values":[0,25,50,75,100],"title":null}}},
   "layer":[
    {"data":{"name":"toe"},"mark":{"type":"rule","color":"#555","strokeWidth":1},
     "encoding":{"strokeDash":{"field":"c","type":"nominal","scale":{"domain":["0%","5%","10%"],"range":[[1,0],[5,3],[1.5,1.5]]},"legend":null}}},
    {"data":{"name":"emg"},"transform":[{"filter":"datum.m == 'VM'"}],
     "mark":{"type":"line","color":"black","strokeWidth":1.8,"interpolate":"monotone"},
     "encoding":{
      "y":{"field":"y","type":"quantitative","scale":{"domain":[0,2.73],"nice":false},"axis":{"values":[0,0.5,1,1.5,2,2.5],"title":null}},
      "strokeDash":{"field":"c","type":"nominal","scale":{"domain":["0%","5%","10%"],"range":[[1,0],[5,3],[1.5,1.5]]},"legend":null}}}
   ]},
  {"width":254,"height":155,
   "title":{"text":"Rectus Femoris","dx":-35,"offset":-17},
   "encoding":{"x":{"field":"x","type":"quantitative","scale":{"domain":[0,100],"nice":false},"axis":{"values":[0,25,50,75,100],"title":"Percent Gait Cycle"}}},
   "layer":[
    {"data":{"name":"toe"},"mark":{"type":"rule","color":"#444","strokeWidth":1},
     "encoding":{}},
    {"data":{"name":"emg"},"transform":[{"filter":"datum.m == 'RF'"}],
     "mark":{"type":"line","color":"black","strokeWidth":1.8,"interpolate":"monotone"},
     "encoding":{
      "y":{"field":"y","type":"quantitative","scale":{"domain":[0,1.52],"nice":false},"axis":{"values":[0,0.5,1,1.5],"title":"Normalized Muscle Activity"}},
      "strokeDash":{"field":"c","type":"nominal","scale":{"domain":["0%","5%","10%"],"range":[[1,0],[5,3],[1.5,1.5]]},"legend":null}}}
   ]},
  {"width":254,"height":155,
   "title":{"text":"Vastus Lateralis","dx":-37,"offset":-11},
   "encoding":{"x":{"field":"x","type":"quantitative","scale":{"domain":[0,100],"nice":false},"axis":{"values":[0,25,50,75,100],"title":"Percent Gait Cycle"}}},
   "layer":[
    {"data":{"name":"toe"},"mark":{"type":"rule","color":"#555","strokeWidth":1},
     "encoding":{"strokeDash":{"field":"c","type":"nominal","scale":{"domain":["0%","5%","10%"],"range":[[1,0],[5,3],[1.5,1.5]]},"legend":null}}},
    {"data":{"name":"emg"},"transform":[{"filter":"datum.m == 'VL'"}],
     "mark":{"type":"line","color":"black","strokeWidth":1.8,"interpolate":"monotone"},
     "encoding":{
      "y":{"field":"y","type":"quantitative","scale":{"domain":[0,2.74],"nice":false},"axis":{"values":[0,0.5,1,1.5,2,2.5],"title":null}},
      "strokeDash":{"field":"c","type":"nominal","scale":{"domain":["0%","5%","10%"],"range":[[1,0],[5,3],[1.5,1.5]]},"legend":null}}}
   ]}
],
"config":{
 "font":"Liberation Sans",
 "view":{"stroke":null},
 "axis":{"ticks":false,"grid":false,"domainColor":"#9a9a9a","domainWidth":1,"labelColor":"#444","labelFontSize":8.5,"labelPadding":4,"labelFlush":false,"labelOverlap":false,"titleColor":"#444","titleFontWeight":"normal"},
 "axisX":{"titleFontSize":10,"titlePadding":1},
 "axisY":{"titleFontSize":12,"titlePadding":4,"labelExpr":"datum.value == 0 ? '0' : format(datum.value, '.1f')"},
 "title":{"fontSize":11,"fontWeight":"normal","color":"#333","anchor":"middle","frame":"group","baseline":"middle"}
}
}
